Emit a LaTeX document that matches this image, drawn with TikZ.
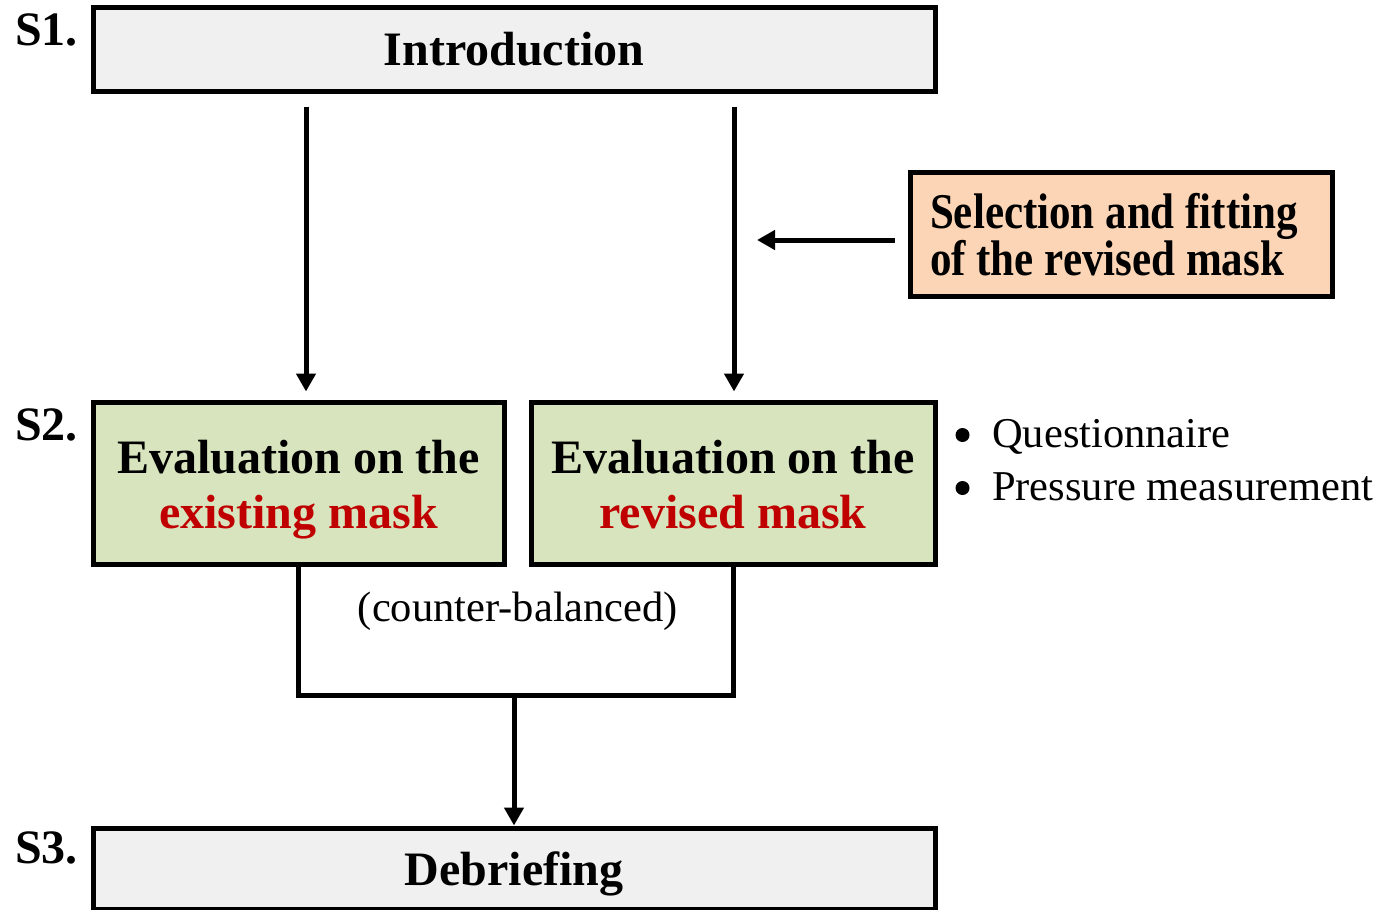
\documentclass[tikz,border=0pt]{standalone}
\usepackage{fontspec}
\setmainfont{Liberation Serif}
\newfontfamily\condserif{Liberation Serif}[FakeStretch=0.86]
\usetikzlibrary{arrows.meta,calc}
\definecolor{boxgray}{HTML}{F0F0F0}
\definecolor{boxgreen}{HTML}{D7E4BD}
\definecolor{boxorange}{HTML}{FBD5B5}
\definecolor{maskred}{HTML}{C00000}
\tikzset{
  box/.style={draw=black, line width=5pt, inner sep=0pt, align=center},
  bigfont/.style={font=\fontsize{48}{55}\selectfont\bfseries},
  arr/.style={line width=5pt, -{Triangle[length=18pt,width=19pt]}},
  conn/.style={line width=5pt},
  steplabel/.style={anchor=base west, font=\fontsize{48}{56}\selectfont\bfseries, inner sep=0pt},
  plainfont/.style={font=\fontsize{42.5}{53}\selectfont},
  bulletdot/.style={circle, fill=black, inner sep=0pt, minimum size=14pt},
  itemtext/.style={anchor=base west, inner sep=0pt, plainfont},
}
\begin{document}
\begin{tikzpicture}[x=1pt,y=-1pt]
\useasboundingbox (0,0) rectangle (1379,910);
\begin{scope}
\clip (0,0) rectangle (1379,910);
% boxes
\node[box, bigfont, fill=boxgray, minimum width=842, minimum height=84,
      text height=36pt, text depth=4pt] (intro) at (514,49) {Introduction};
\node[box, fill=boxorange, minimum width=422, minimum height=124, align=left,
      font=\condserif\fontsize{50}{45}\selectfont\bfseries,
      text height=95pt, text depth=12pt] (sel) at (1121,234)
  {Selection and fitting\hspace*{14pt}\\of the revised mask};
\node[box, bigfont, fill=boxgreen, minimum width=411, minimum height=162,
      text height=102pt, text depth=12pt] (gl) at (298.5,483)
  {Evaluation on the\\\textcolor{maskred}{existing mask}};
\node[box, bigfont, fill=boxgreen, minimum width=404, minimum height=162,
      text height=102pt, text depth=12pt] (gr) at (733,483)
  {Evaluation on the\\\textcolor{maskred}{revised mask}};
\node[box, bigfont, fill=boxgray, minimum width=842, minimum height=81,
      text height=44pt, text depth=11pt] (deb) at (514,868.5) {Debriefing};
% step labels
\node[steplabel] (s1) at (15,45) {S1.};
\node[steplabel] (s2) at (15,440) {S2.};
\node[steplabel] (s3) at (15,863) {S3.};
% bullets
\node[bulletdot] (b1) at (962.5,435) {};
\node[bulletdot] (b2) at (962.5,488) {};
\node[itemtext] (q1) at (992,447) {Questionnaire};
\node[itemtext] (q2) at (992,500) {Pressure measurement};
% counter-balanced
\node[anchor=base, inner sep=0pt, plainfont] (cb) at (518,621) {(counter-balanced)};
% coordinates
\coordinate (xl) at (306,0);
\coordinate (xr) at (734,0);
\coordinate (mid) at (514,695);
% arrows
\draw[arr] ($(intro.south -| xl)+(0,13)$) -- ($(gl.north -| xl)+(0,-8)$);
\draw[arr] ($(intro.south -| xr)+(0,13)$) -- ($(gr.north -| xr)+(0,-8)$);
\draw[arr] ($(sel.west)+(-13,6)$) -- ($(sel.west -| xr)+(23,6)$);
\draw[conn] (gl.south) |- (mid) -| (gr.south);
\draw[arr] (mid) -- (deb.north);
\end{scope}
\end{tikzpicture}
\end{document}
